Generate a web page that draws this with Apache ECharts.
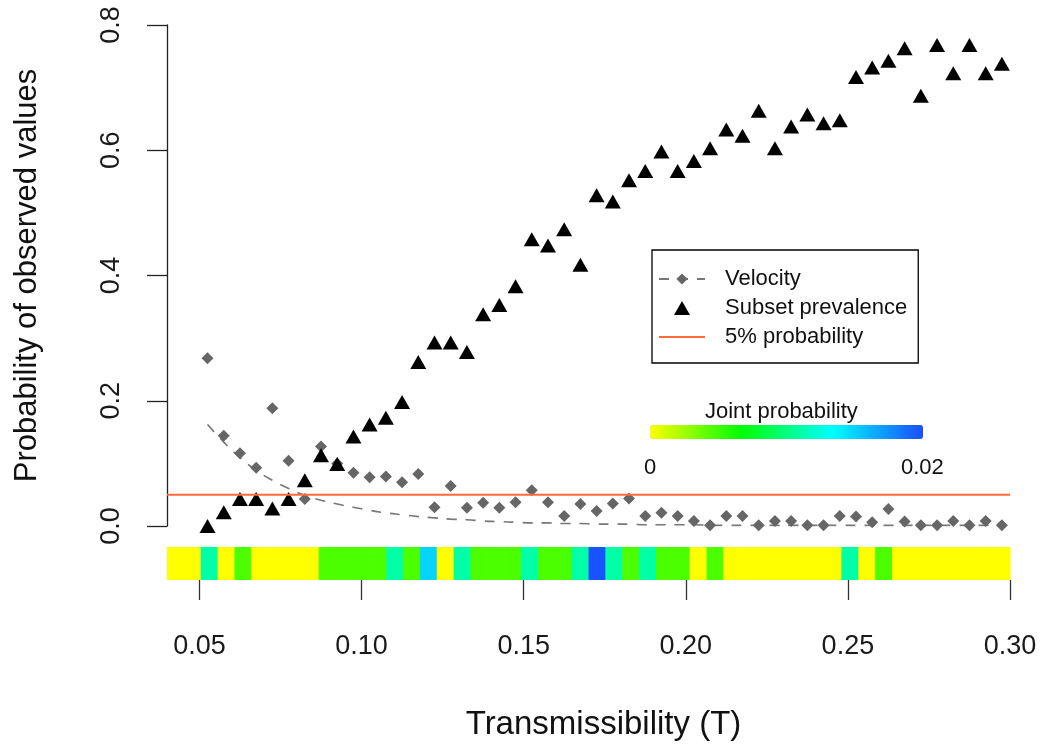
<!DOCTYPE html>
<html>
<head>
<meta charset="utf-8">
<title>Transmissibility</title>
<script src="https://cdn.jsdelivr.net/npm/echarts@6/dist/echarts.min.js"></script>
<style>
  html, body { margin: 0; padding: 0; background: #fff; }
  #chart { width: 1040px; height: 744px; }
</style>
</head>
<body>
<div id="chart"></div>
<script>
// transmissibility values where points were evaluated
const tValues = [
  0.0525, 0.0575, 0.0625, 0.0675, 0.0725, 0.0775, 0.0825, 0.0875, 0.0925, 0.0975,
  0.1025, 0.1075, 0.1125, 0.1175, 0.1225, 0.1275, 0.1325, 0.1375, 0.1425, 0.1475,
  0.1525, 0.1575, 0.1625, 0.1675, 0.1725, 0.1775, 0.1825, 0.1875, 0.1925, 0.1975,
  0.2025, 0.2075, 0.2125, 0.2175, 0.2225, 0.2275, 0.2325, 0.2375, 0.2425, 0.2475,
  0.2525, 0.2575, 0.2625, 0.2675, 0.2725, 0.2775, 0.2825, 0.2875, 0.2925, 0.2975
];
// subset prevalence (triangles)
const prevalence = [
  0.000, 0.022, 0.043, 0.043, 0.028, 0.043, 0.073, 0.113, 0.099, 0.143,
  0.162, 0.173, 0.198, 0.262, 0.293, 0.293, 0.278, 0.338, 0.353, 0.383,
  0.458, 0.448, 0.474, 0.417, 0.528, 0.518, 0.552, 0.567, 0.598, 0.567,
  0.583, 0.603, 0.633, 0.623, 0.663, 0.603, 0.638, 0.657, 0.643, 0.648,
  0.717, 0.732, 0.743, 0.763, 0.687, 0.768, 0.723, 0.768, 0.723, 0.738
];
// velocity (diamonds)
const velocity = [
  0.268, 0.144, 0.116, 0.093, 0.188, 0.104, 0.043, 0.127, 0.100, 0.085,
  0.078, 0.079, 0.070, 0.083, 0.030, 0.064, 0.029, 0.037, 0.029, 0.038,
  0.057, 0.038, 0.016, 0.035, 0.024, 0.036, 0.044, 0.016, 0.021, 0.016,
  0.008, 0.001, 0.016, 0.016, 0.001, 0.008, 0.008, 0.001, 0.001, 0.016,
  0.015, 0.006, 0.027, 0.007, 0.001, 0.001, 0.008, 0.001, 0.008, 0.001
];
// fitted velocity curve (dashed)
const velocityFit = [
  0.162, 0.134, 0.109, 0.089, 0.073, 0.060, 0.049, 0.041, 0.035, 0.030,
  0.025, 0.021, 0.018, 0.015, 0.013, 0.011, 0.010, 0.008, 0.007, 0.006,
  0.005, 0.005, 0.004, 0.004, 0.003, 0.003, 0.003, 0.002, 0.002, 0.002,
  0.002, 0.001, 0.001, 0.001, 0.001, 0.001, 0.001, 0.001, 0.001, 0.001,
  0.001, 0.001, 0.001, 0.001, 0.001, 0.001, 0.001, 0.001, 0.001, 0.001
];
// joint probability strip, 50 cells between stripStart and stripEnd
const jointProb = [
  0, 0, 0.011, 0, 0.0047, 0, 0, 0, 0, 0.0047,
  0.0047, 0.0047, 0.0047, 0.011, 0.0047, 0.015, 0, 0.011, 0.0047, 0.0047,
  0.0047, 0.011, 0.0047, 0.0047, 0.011, 0.0198, 0.011, 0.0047, 0.011, 0.0047,
  0.0047, 0, 0.0047, 0, 0, 0, 0, 0, 0, 0,
  0.011, 0, 0.0047, 0, 0, 0, 0, 0, 0, 0
];
const stripStart = 0.04;
const stripEnd = 0.30;
const cutoff = 0.05;
const xTicks = [0.05, 0.10, 0.15, 0.20, 0.25, 0.30];

const font = "'Liberation Sans', Arial, sans-serif";

let chart = echarts.init(document.getElementById("chart"));

let cellW = (stripEnd - stripStart) / jointProb.length;
let stripData = jointProb.map((v, i) => [stripStart + i * cellW, stripStart + (i + 1) * cellW, v]);

let option = {
  animation: false,
  textStyle: { fontFamily: font, color: "#111" },
  grid: [
    { left: 167, right: 30, top: 25, bottom: 218 },
    { left: 167, right: 30, top: 547, height: 33 }
  ],
  xAxis: [
    { gridIndex: 0, type: "value", min: stripStart, max: stripEnd, show: false },
    {
      gridIndex: 1,
      type: "value",
      min: stripStart,
      max: stripEnd,
      axisLine: { show: false },
      splitLine: { show: false },
      axisTick: {
        show: true,
        length: 20,
        customValues: xTicks,
        lineStyle: { color: "#333", width: 1.3 }
      },
      axisLabel: {
        customValues: xTicks,
        margin: 53,
        fontSize: 27,
        color: "#1a1a1a",
        formatter: v => v.toFixed(2)
      },
      name: "Transmissibility (T)",
      nameLocation: "middle",
      nameGap: 128,
      nameTextStyle: { fontSize: 33, color: "#111", padding: [0, 0, 0, 30] }
    }
  ],
  yAxis: [
    {
      gridIndex: 0,
      type: "value",
      min: 0,
      max: 0.8,
      interval: 0.2,
      splitLine: { show: false },
      axisLine: { show: true, lineStyle: { color: "#222", width: 1.3 } },
      axisTick: { show: true, length: 20, lineStyle: { color: "#222", width: 1.3 } },
      axisLabel: {
        rotate: 90,
        margin: 42,
        fontSize: 27,
        color: "#1a1a1a",
        formatter: v => v.toFixed(1)
      },
      name: "Probability of observed values",
      nameLocation: "middle",
      nameGap: 124,
      nameTextStyle: { fontSize: 31, color: "#111" }
    },
    { gridIndex: 1, type: "value", min: 0, max: 1, show: false }
  ],
  legend: {
    left: 652,
    top: 250,
    orient: "vertical",
    selectedMode: false,
    itemWidth: 46,
    itemHeight: 14,
    itemGap: 7,
    padding: [18, 11, 15, 6],
    borderColor: "#000",
    borderWidth: 1.3,
    symbolKeepAspect: true,
    textStyle: { fontSize: 22, color: "#111", padding: [0, 0, 0, 15] },
    data: [
      { name: "Velocity" },
      { name: "Subset prevalence", icon: "path://M8,0L16,14L0,14Z" },
      { name: "5% probability", icon: "path://M0,0H46V2H0Z" }
    ]
  },
  visualMap: {
    type: "continuous",
    seriesIndex: 4,
    dimension: 2,
    min: 0,
    max: 0.02,
    orient: "horizontal",
    left: 650,
    top: 425,
    itemWidth: 14,
    itemHeight: 273,
    padding: 0,
    calculable: false,
    hoverLink: false,
    inRange: { color: ["#ffff00", "#00ff00", "#00ffff", "#1a4dff"] }
  },
  graphic: [
    { type: "text", left: 705, top: 401, style: { text: "Joint probability", font: "22px " + font, fill: "#111" } },
    { type: "text", left: 644, top: 457, style: { text: "0", font: "22px " + font, fill: "#111" } },
    { type: "text", left: 901, top: 457, style: { text: "0.02", font: "22px " + font, fill: "#111" } }
  ],
  series: [
    {
      name: "Velocity",
      type: "line",
      xAxisIndex: 0,
      yAxisIndex: 0,
      data: tValues.map((t, i) => [t, velocityFit[i]]),
      smooth: true,
      showSymbol: false,
      symbol: "diamond",
      symbolSize: 11,
      itemStyle: { color: "#666" },
      lineStyle: { color: "#777", width: 1.6, type: [10, 9] },
      z: 2
    },
    {
      name: "Velocity",
      type: "scatter",
      xAxisIndex: 0,
      yAxisIndex: 0,
      data: tValues.map((t, i) => [t, velocity[i]]),
      symbol: "diamond",
      symbolSize: [12, 12],
      itemStyle: { color: "#666", opacity: 1 },
      z: 3
    },
    {
      name: "Subset prevalence",
      type: "scatter",
      xAxisIndex: 0,
      yAxisIndex: 0,
      data: tValues.map((t, i) => [t, prevalence[i]]),
      symbol: "triangle",
      symbolSize: [16, 14],
      itemStyle: { color: "#000", opacity: 1 },
      z: 4
    },
    {
      name: "5% probability",
      type: "line",
      xAxisIndex: 0,
      yAxisIndex: 0,
      data: [[stripStart, cutoff], [stripEnd, cutoff]],
      symbol: "none",
      lineStyle: { color: "#ff6a3d", width: 2 },
      itemStyle: { color: "#ff6a3d" },
      z: 5
    },
    {
      name: "Joint probability",
      type: "custom",
      xAxisIndex: 1,
      yAxisIndex: 1,
      data: stripData,
      encode: { x: [0, 1] },
      renderItem: function (params, api) {
        let p0 = api.coord([api.value(0), 1]);
        let p1 = api.coord([api.value(1), 0]);
        return {
          type: "rect",
          shape: { x: p0[0], y: p0[1], width: p1[0] - p0[0] + 0.6, height: p1[1] - p0[1] },
          style: { fill: api.visual("color") }
        };
      }
    }
  ]
};
chart.setOption(option);
</script>
</body>
</html>
